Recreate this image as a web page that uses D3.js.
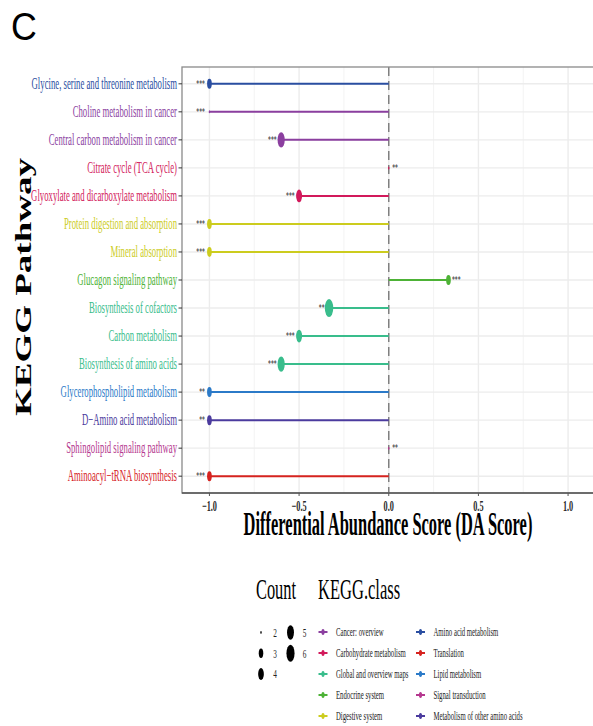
<!DOCTYPE html>
<html>
<head>
<meta charset="utf-8">
<script src="https://cdn.jsdelivr.net/npm/d3@7"></script>
<style>
  body { margin: 0; background: #fff; }
  text { font-family: "Liberation Serif", "DejaVu Serif", serif; }
</style>
</head>
<body>
<div id="chart"></div>
<script>
// pathways from top to bottom
var pathways = ["Glycine, serine and threonine metabolism", "Choline metabolism in cancer",
  "Central carbon metabolism in cancer", "Citrate cycle (TCA cycle)",
  "Glyoxylate and dicarboxylate metabolism", "Protein digestion and absorption",
  "Mineral absorption", "Glucagon signaling pathway", "Biosynthesis of cofactors",
  "Carbon metabolism", "Biosynthesis of amino acids", "Glycerophospholipid metabolism",
  "D\u2212Amino acid metabolism", "Sphingolipid signaling pathway", "Aminoacyl\u2212tRNA biosynthesis"];
var pathwayClass = ["Amino acid metabolism", "Cancer: overview", "Cancer: overview",
  "Carbohydrate metabolism", "Carbohydrate metabolism", "Digestive system", "Digestive system",
  "Endocrine system", "Global and overview maps", "Global and overview maps",
  "Global and overview maps", "Lipid metabolism", "Metabolism of other amino acids",
  "Signal transduction", "Translation"];
var daScore = [-1, -1, -0.6, 0, -0.5, -1, -1, 0.333, -0.333, -0.5, -0.6, -1, -1, 0, -1];
var counts = [3, 2, 5, 2, 4, 3, 3, 3, 6, 4, 5, 3, 3, 2, 3];
var stars = ["***", "***", "***", "**", "***", "***", "***", "***", "**", "***", "***", "**", "**", "**", "***"];

var classNames = ["Cancer: overview", "Carbohydrate metabolism", "Global and overview maps",
  "Endocrine system", "Digestive system", "Amino acid metabolism", "Translation",
  "Lipid metabolism", "Signal transduction", "Metabolism of other amino acids"];
var classColors = ["#8b3f9f", "#d2195b", "#39bd8c", "#4db236", "#cccc1e", "#2a4ea1",
  "#d6231f", "#2b7ac8", "#b5388f", "#4b3b9e"];
var countLevels = [2, 3, 4, 5, 6];
var xTicks = [-1, -0.5, 0, 0.5, 1];
var xMinor = [-0.75, -0.25, 0.25, 0.75];

var width = 593, height = 726;
var pLeft = 182, pRight = 595.5, pTop = 67, pBottom = 493;
var squeeze = 0.545;   // the picture is narrowed horizontally

var svg = d3.select('#chart').append('svg')
  .attr('width', width).attr('height', height);

var color = d3.scaleOrdinal().domain(classNames).range(classColors);
var x = d3.scaleLinear().domain([-1.153, 1.153]).range([pLeft, pRight]);
var y = d3.scalePoint().domain(pathways).range([pTop, pBottom]).padding(0.6);
var size = d3.scaleLinear().domain([2, 3, 6]).range([1.5, 5, 9]);

var rows = pathways.map(function (p, i) {
  return { name: p, cls: pathwayClass[i], da: daScore[i], count: counts[i], star: stars[i] };
});

function squeezed(sel, sx) {
  sel.attr('transform', function () {
    return 'translate(' + this.getAttribute('data-x') + ',' + this.getAttribute('data-y') + ') scale(' + sx + ',1)';
  });
}

// grid
var grid = svg.append('g');
grid.selectAll('.minor').data(xMinor).enter().append('line')
  .attr('x1', x).attr('x2', x).attr('y1', pTop).attr('y2', pBottom)
  .attr('stroke', '#f3f3f3').attr('stroke-width', 1);
grid.selectAll('.major').data(xTicks).enter().append('line')
  .attr('x1', x).attr('x2', x).attr('y1', pTop).attr('y2', pBottom)
  .attr('stroke', '#ececec').attr('stroke-width', 1.4);
grid.selectAll('.hrow').data(pathways).enter().append('line')
  .attr('x1', pLeft).attr('x2', pRight).attr('y1', y).attr('y2', y)
  .attr('stroke', '#ececec').attr('stroke-width', 1.4);

// zero line
svg.append('line')
  .attr('x1', x(0)).attr('x2', x(0)).attr('y1', pTop).attr('y2', pBottom)
  .attr('stroke', '#808080').attr('stroke-width', 1.5)
  .attr('stroke-dasharray', '9,5');

// lollipops
svg.selectAll('.stick').data(rows).enter().append('line')
  .attr('x1', x(0)).attr('x2', function (d) { return x(d.da); })
  .attr('y1', function (d) { return y(d.name); })
  .attr('y2', function (d) { return y(d.name); })
  .attr('stroke', function (d) { return color(d.cls); })
  .attr('stroke-width', 2);

svg.selectAll('.dot').data(rows).enter().append('ellipse')
  .attr('cx', function (d) { return x(d.da); })
  .attr('cy', function (d) { return y(d.name); })
  .attr('rx', function (d) { return size(d.count) * 0.47; })
  .attr('ry', function (d) { return size(d.count); })
  .attr('fill', function (d) { return color(d.cls); });

// significance stars
svg.selectAll('.star').data(rows).enter().append('text')
  .attr('data-x', function (d) { return d.da < 0 ? x(d.da) - 4.5 : x(d.da) + 3.5; })
  .attr('data-y', function (d) { return y(d.name) + 3; })
  .attr('text-anchor', function (d) { return d.da < 0 ? 'end' : 'start'; })
  .style('font-size', '10.5px').attr('fill', '#1a1a1a')
  .text(function (d) { return d.star; })
  .call(squeezed, squeeze);

// panel border
svg.append('rect')
  .attr('x', pLeft).attr('y', pTop).attr('width', pRight - pLeft).attr('height', pBottom - pTop)
  .attr('fill', 'none').attr('stroke', '#8a8a8a').attr('stroke-width', 1.3);
svg.append('line')
  .attr('x1', pLeft).attr('x2', pRight).attr('y1', pBottom).attr('y2', pBottom)
  .attr('stroke', '#555').attr('stroke-width', 1.3);

// y axis ticks and labels
svg.selectAll('.ytick').data(pathways).enter().append('line')
  .attr('x1', pLeft - 3.5).attr('x2', pLeft).attr('y1', y).attr('y2', y)
  .attr('stroke', '#333').attr('stroke-width', 1);
svg.selectAll('.ylab').data(rows).enter().append('text')
  .attr('data-x', pLeft - 5)
  .attr('data-y', function (d) { return y(d.name) + 5; })
  .attr('text-anchor', 'end')
  .style('font-size', '16px')
  .attr('fill', function (d) { return color(d.cls); })
  .text(function (d) { return d.name; })
  .call(squeezed, squeeze);

// x axis ticks and labels
svg.selectAll('.xtick').data(xTicks).enter().append('line')
  .attr('x1', x).attr('x2', x).attr('y1', pBottom).attr('y2', pBottom + 3)
  .attr('stroke', '#555').attr('stroke-width', 1);
svg.selectAll('.xlab').data(xTicks).enter().append('text')
  .attr('data-x', x).attr('data-y', 511)
  .attr('text-anchor', 'middle')
  .style('font-size', '15px').style('font-weight', 'bold').attr('fill', '#2a2a2a')
  .text(function (d) { return d3.format('.1f')(d).replace('-', '\u2212'); })
  .call(squeezed, 0.55);

// axis titles
svg.append('text')
  .attr('data-x', 388).attr('data-y', 535)
  .attr('text-anchor', 'middle')
  .style('font-size', '34.5px').style('font-weight', 'bold').attr('fill', '#000')
  .text('Differential Abundance Score (DA Score)')
  .call(squeezed, 0.477);

svg.append('text')
  .attr('transform', 'translate(31,287) scale(0.64,1) rotate(-90)')
  .attr('text-anchor', 'middle')
  .style('font-size', '37px').style('font-weight', 'bold').attr('fill', '#000')
  .text('KEGG Pathway');

// panel tag
svg.append('text')
  .attr('transform', 'translate(11,40) scale(0.93,1)')
  .style('font-family', '"Liberation Sans", Arial, sans-serif')
  .style('font-size', '38.5px').attr('fill', '#000')
  .text('C');

// legends
svg.append('text').attr('data-x', 256).attr('data-y', 599)
  .style('font-size', '29px').text('Count').call(squeezed, 0.565);
svg.append('text').attr('data-x', 318).attr('data-y', 599)
  .style('font-size', '29px').text('KEGG.class').call(squeezed, 0.57);

var legendRow = 20.8;
var countLegend = svg.selectAll('.cnt').data(countLevels).enter().append('g')
  .attr('transform', function (d, i) {
    var col = i < 3 ? 0 : 1, row = i < 3 ? i : i - 3;
    return 'translate(' + (261 + col * 29.5) + ',' + (632.5 + row * legendRow) + ')';
  });
countLegend.append('ellipse')
  .attr('rx', function (d) { return size(d) * 0.45; })
  .attr('ry', function (d) { return size(d) * 0.95; })
  .attr('fill', '#000');
countLegend.append('text')
  .attr('data-x', 14).attr('data-y', 4.3)
  .attr('text-anchor', 'middle')
  .style('font-size', '13px').attr('fill', '#222')
  .text(function (d) { return d; })
  .call(squeezed, 0.56);

var classLegend = svg.selectAll('.cls').data(classNames).enter().append('g')
  .attr('transform', function (d, i) {
    var col = i < 5 ? 0 : 1, row = i < 5 ? i : i - 5;
    return 'translate(' + (323 + col * 97.5) + ',' + (632 + row * 21) + ')';
  });
classLegend.append('line')
  .attr('x1', -4.5).attr('x2', 4.5)
  .attr('stroke', function (d) { return color(d); }).attr('stroke-width', 2);
classLegend.append('ellipse')
  .attr('rx', 1.6).attr('ry', 3)
  .attr('fill', function (d) { return color(d); });
classLegend.append('text')
  .attr('data-x', 13).attr('data-y', 4.2)
  .style('font-size', '12.5px').attr('fill', '#222')
  .text(function (d) { return d; })
  .call(squeezed, 0.54);
</script>
</body>
</html>
